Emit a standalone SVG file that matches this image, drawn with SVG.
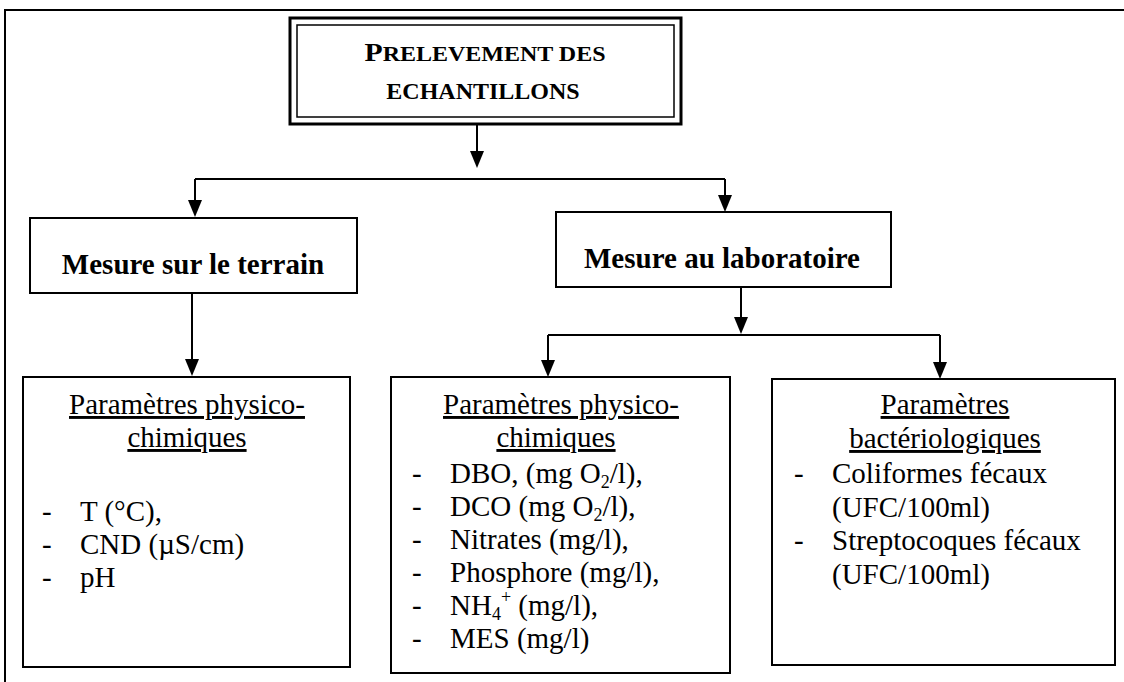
<svg xmlns="http://www.w3.org/2000/svg" width="1124" height="682" viewBox="0 0 1124 682">
<style>
  .frame{fill:none;stroke:#000;stroke-width:2}
  .box{fill:#fff;stroke:#000;stroke-width:2}
  .conn{fill:none;stroke:#000;stroke-width:2}
  .tip{fill:#000}
  text{font-family:'Liberation Serif','DejaVu Serif','Times New Roman',Times,serif;fill:#000}
  .head{font-weight:bold}
  .bold{font-weight:bold;font-size:29px}
  .txt{font-size:29px}
  .u{text-decoration:underline}
</style>
<rect width="1124" height="682" fill="#fff"/>
<path class="frame" d="M5,682 V10 H1124"/>

<g id="connectors">
  <path class="conn" d="M477,124 V152"/>
  <path class="tip" d="M470,151 L484,151 L477,168 Z"/>
  <path class="conn" d="M195,179 H725"/>
  <path class="conn" d="M195,179 V201"/>
  <path class="tip" d="M188,200 L202,200 L195,217 Z"/>
  <path class="conn" d="M725,179 V196"/>
  <path class="tip" d="M718,195 L732,195 L725,212 Z"/>
  <path class="conn" d="M192,293 V360"/>
  <path class="tip" d="M185,359 L199,359 L192,376 Z"/>
  <path class="conn" d="M741,287 V318"/>
  <path class="tip" d="M734,317 L748,317 L741,334 Z"/>
  <path class="conn" d="M548,335 H940"/>
  <path class="conn" d="M548,335 V361"/>
  <path class="tip" d="M541,360 L555,360 L548,377 Z"/>
  <path class="conn" d="M940,335 V363"/>
  <path class="tip" d="M933,362 L947,362 L940,379 Z"/>
</g>

<g id="prelevement">
  <rect x="290" y="18" width="391" height="106" fill="#fff" stroke="#000" stroke-width="3"/>
  <rect x="297" y="25" width="377" height="92" fill="none" stroke="#000" stroke-width="1.5"/>
  <text class="head" x="485" y="61" text-anchor="middle" textLength="241" lengthAdjust="spacingAndGlyphs"><tspan font-size="26">P</tspan><tspan font-size="21">RELEVEMENT DES</tspan></text>
  <text class="head" x="483" y="99" text-anchor="middle" font-size="24">ECHANTILLONS</text>
</g>

<g id="terrain">
  <rect class="box" x="30" y="218" width="327" height="75"/>
  <text class="bold" x="193" y="274" text-anchor="middle">Mesure sur le terrain</text>
</g>

<g id="laboratoire">
  <rect class="box" x="556" y="212" width="335" height="75"/>
  <text class="bold" x="722" y="268" text-anchor="middle">Mesure au laboratoire</text>
</g>

<g id="physico-terrain">
  <rect class="box" x="23" y="377" width="327" height="290"/>
  <text class="txt u" x="187" y="414" text-anchor="middle">Paramètres physico-</text>
  <text class="txt u" x="187" y="447" text-anchor="middle">chimiques</text>
  <text class="txt" x="42" y="521">-</text><text class="txt" x="80" y="521">T (°C),</text>
  <text class="txt" x="42" y="554">-</text><text class="txt" x="80" y="554">CND (µS/cm)</text>
  <text class="txt" x="42" y="587">-</text><text class="txt" x="80" y="587">pH</text>
</g>

<g id="physico-labo">
  <rect class="box" x="391" y="377" width="339" height="296"/>
  <text class="txt u" x="561" y="414" text-anchor="middle">Paramètres physico-</text>
  <text class="txt u" x="556" y="447" text-anchor="middle">chimiques</text>
  <text class="txt" x="412" y="483">-</text><text class="txt" x="450" y="483">DBO, (mg O<tspan font-size="18" dy="5">2</tspan><tspan dy="-5">/l),</tspan></text>
  <text class="txt" x="412" y="516">-</text><text class="txt" x="450" y="516">DCO (mg O<tspan font-size="18" dy="5">2</tspan><tspan dy="-5">/l),</tspan></text>
  <text class="txt" x="412" y="549">-</text><text class="txt" x="450" y="549">Nitrates (mg/l),</text>
  <text class="txt" x="412" y="582">-</text><text class="txt" x="450" y="582">Phosphore (mg/l),</text>
  <text class="txt" x="412" y="615">-</text><text class="txt" x="450" y="615">NH<tspan font-size="18" dy="5">4</tspan><tspan font-size="18" dy="-17">+</tspan><tspan dy="12"> (mg/l),</tspan></text>
  <text class="txt" x="412" y="648">-</text><text class="txt" x="450" y="648">MES (mg/l)</text>
</g>

<g id="bacterio">
  <rect class="box" x="772" y="379" width="343" height="286"/>
  <text class="txt u" x="945" y="414" text-anchor="middle">Paramètres</text>
  <text class="txt u" x="945" y="448" text-anchor="middle">bactériologiques</text>
  <text class="txt" x="794" y="483">-</text><text class="txt" x="832" y="483">Coliformes fécaux</text>
  <text class="txt" x="832" y="517">(UFC/100ml)</text>
  <text class="txt" x="794" y="550">-</text><text class="txt" x="832" y="550">Streptocoques fécaux</text>
  <text class="txt" x="832" y="584">(UFC/100ml)</text>
</g>
</svg>
